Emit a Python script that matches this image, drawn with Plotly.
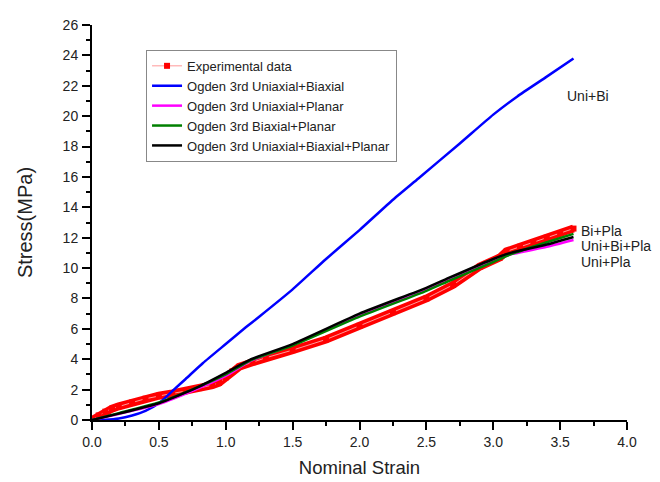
import plotly.graph_objects as go

exp_x = [0.0, 0.05, 0.1, 0.15, 0.2, 0.3, 0.4, 0.5, 0.6, 0.7, 0.8, 0.9, 0.95, 1.0, 1.05, 1.1,
         1.2, 1.3, 1.5, 1.75, 2.0, 2.25, 2.5, 2.7, 2.9, 3.05, 3.1, 3.2, 3.3, 3.4, 3.5, 3.6]
exp_y = [0.0, 0.3, 0.55, 0.75, 0.9, 1.15, 1.4, 1.6, 1.75, 1.9, 2.1, 2.3, 2.45, 2.8, 3.2, 3.5,
         3.8, 4.1, 4.6, 5.3, 6.2, 7.1, 8.0, 8.9, 10.1, 10.7, 11.1, 11.4, 11.7, 12.0, 12.3, 12.6]

# Ogden 3rd Uniaxial+Biaxial
ub_x = [0.0, 0.1, 0.2, 0.3, 0.4, 0.5, 0.6, 0.7, 0.83, 1.0, 1.15, 1.25, 1.5, 1.75, 2.0, 2.25,
        2.44, 2.75, 3.0, 3.18, 3.4, 3.6]
ub_y = [0.0, 0.02, 0.1, 0.3, 0.6, 1.1, 1.9, 2.7, 3.75, 5.0, 6.1, 6.8, 8.6, 10.6, 12.5, 14.5,
        15.9, 18.2, 20.1, 21.3, 22.6, 23.8]

# Ogden 3rd Uniaxial+Planar
up_x = [0.0, 0.2, 0.5, 0.8, 1.0, 1.19, 1.5, 2.0, 2.5, 2.68, 3.0, 3.13, 3.4, 3.6]
up_y = [0.0, 0.4, 1.05, 2.1, 2.9, 3.9, 4.95, 6.9, 8.6, 9.3, 10.5, 10.9, 11.4, 11.85]

# Ogden 3rd Biaxial+Planar
bp_x = [0.0, 0.2, 0.5, 0.8, 1.0, 1.19, 1.5, 2.0, 2.5, 2.68, 3.0, 3.13, 3.4, 3.6]
bp_y = [0.0, 0.45, 1.15, 2.2, 3.0, 3.95, 4.9, 6.8, 8.5, 9.2, 10.4, 10.9, 11.7, 12.25]

# Ogden 3rd Uniaxial+Biaxial+Planar
ubp_x = [0.0, 0.2, 0.5, 0.8, 1.0, 1.19, 1.5, 2.0, 2.5, 2.68, 3.0, 3.13, 3.4, 3.6]
ubp_y = [0.0, 0.42, 1.1, 2.2, 3.1, 4.0, 5.0, 7.0, 8.7, 9.4, 10.6, 11.0, 11.55, 12.05]

labels = ["Uni+Bi", "Bi+Pla", "Uni+Bi+Pla", "Uni+Pla"]
label_x = [3.54, 3.64, 3.64, 3.64]
label_y = [21.33, 12.44, 11.45, 10.4]

FONT = "Arial, Liberation Sans, sans-serif"
TXT = "#222222"

fig = go.Figure()
fig.add_trace(go.Scatter(x=exp_x, y=exp_y, mode="lines", line=dict(color="#ff0000", width=8),
                         showlegend=False, hoverinfo="skip"))
fig.add_trace(go.Scatter(x=exp_x, y=exp_y, mode="lines+markers", name="Experimental data",
                         line=dict(color="#ff9999", width=1),
                         marker=dict(symbol="square", color="#ff0000", size=6)))
model = dict(shape="spline", smoothing=0.5, width=2.5)
fig.add_trace(go.Scatter(x=ub_x, y=ub_y, mode="lines", name="Ogden 3rd Uniaxial+Biaxial",
                         line=dict(color="#0000ff", **model)))
fig.add_trace(go.Scatter(x=up_x, y=up_y, mode="lines", name="Ogden 3rd Uniaxial+Planar",
                         line=dict(color="#ff00ff", **model)))
fig.add_trace(go.Scatter(x=bp_x, y=bp_y, mode="lines", name="Ogden 3rd Biaxial+Planar",
                         line=dict(color="#008000", **model)))
fig.add_trace(go.Scatter(x=ubp_x, y=ubp_y, mode="lines", name="Ogden 3rd Uniaxial+Biaxial+Planar",
                         line=dict(color="#000000", **model)))

for t, lx, ly in zip(labels, label_x, label_y):
    fig.add_annotation(x=lx, y=ly, text=t, showarrow=False, xanchor="left",
                       font=dict(size=14, color=TXT, family=FONT))

axis_common = dict(showline=True, linecolor="black", linewidth=2, mirror=False,
                   ticks="outside", ticklen=8, tickwidth=2, tickcolor="black",
                   showgrid=False, zeroline=False, automargin=False,
                   tickfont=dict(size=14, family=FONT, color=TXT))

# page has a small body margin, so the figure is sized to fit the 660x482 window
fig.update_layout(
    width=652, height=474,
    margin=dict(l=84, r=33, t=17, b=62),
    paper_bgcolor="white", plot_bgcolor="white",
    font=dict(family=FONT, color=TXT),
    showlegend=True,
    legend=dict(x=0.101, y=0.937, xanchor="left", yanchor="top",
                bgcolor="white", bordercolor="#888", borderwidth=1,
                font=dict(size=13, family=FONT, color=TXT),
                tracegroupgap=0, itemwidth=30),
    xaxis=dict(range=[0, 4], dtick=0.5, tick0=0, tickformat=".1f",
               minor=dict(ticks="outside", ticklen=4, tickwidth=2, tickcolor="black", dtick=0.25),
               title=dict(text="Nominal Strain", font=dict(size=18.5, family=FONT, color=TXT),
                          standoff=12),
               **axis_common),
    yaxis=dict(range=[0, 26], dtick=2, tick0=0, ticklabelstandoff=1,
               minor=dict(ticks="outside", ticklen=4, tickwidth=2, tickcolor="black", dtick=1),
               title=dict(text="Stress(MPa)", font=dict(size=20, family=FONT, color=TXT),
                          standoff=25),
               **axis_common),
)

fig.write_html("out.html")
